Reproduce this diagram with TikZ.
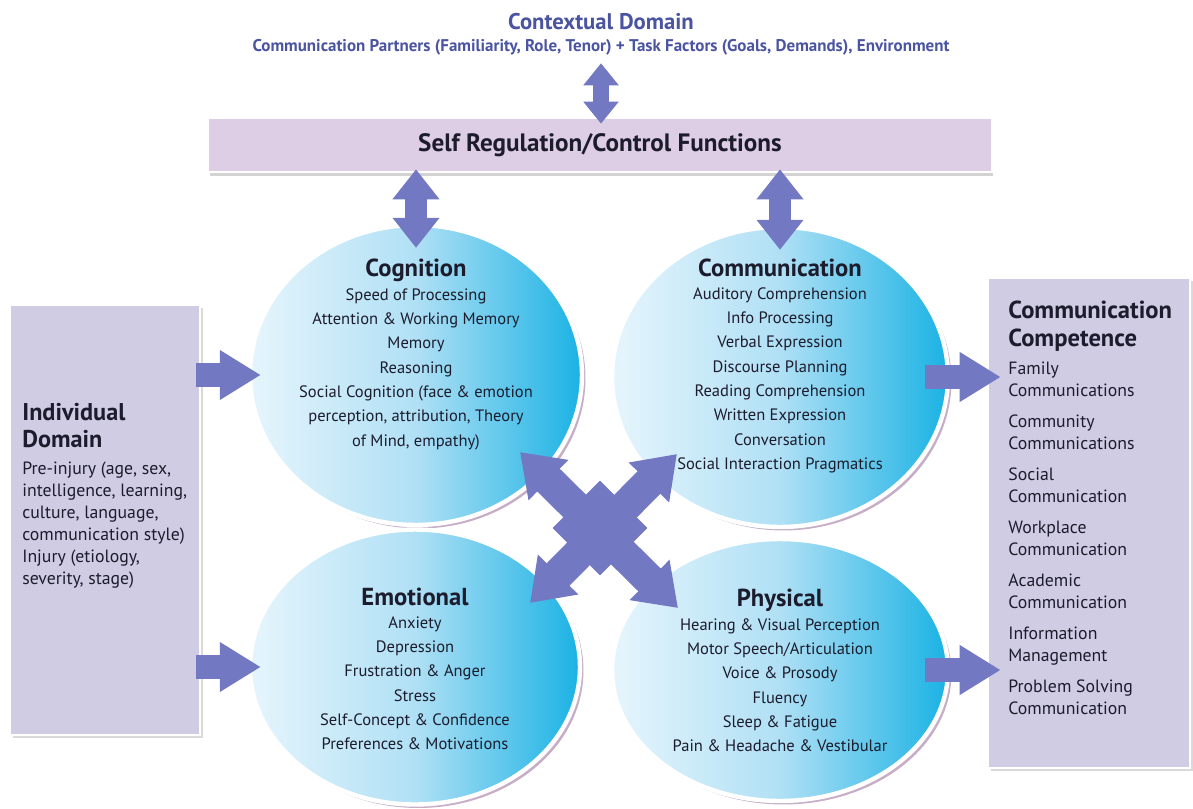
\documentclass[tikz,border=0pt]{standalone}
\usepackage{fontspec}
\setmainfont{PT Sans}
\usetikzlibrary{positioning,shadows,shapes,arrows.meta,calc}

\definecolor{arrowblue}{RGB}{114,120,194}
\definecolor{boxlilac}{RGB}{208,204,227}
\definecolor{regmauve}{RGB}{221,205,229}
\definecolor{titleblue}{RGB}{74,84,160}
\definecolor{inkdark}{RGB}{28,28,45}
\definecolor{skylight}{RGB}{230,245,252}
\definecolor{skymid}{RGB}{176,224,245}
\definecolor{skydeep}{RGB}{26,178,228}

\tikzset {
    style reg/.style={
        fill=regmauve,
        draw=white,
        line width=1.5pt,
        rectangle, % the control bar
        minimum width=15.68cm,
        minimum height=1.08cm,
        font=\fontsize{14.3}{17}\selectfont\bfseries,
        drop shadow={shadow xshift=0.03cm, shadow yshift=-0.08cm, opacity=0.35},
    },
    style domain/.style={
        fill=boxlilac,
        draw=white,
        line width=1.5pt,
        rectangle, % side boxes
        drop shadow={shadow xshift=0.06cm, shadow yshift=-0.06cm, opacity=0.3},
    },
    style area/.style={
        ellipse,
        draw=white,
        line width=2.5pt,
        inner sep=0pt,
        left color=skylight,
        right color=skydeep,
        middle color=skymid,
        drop shadow={shadow xshift=0.07cm, shadow yshift=-0.07cm, fill=violet!40!gray, opacity=0.45},
    },
    style head/.style={
        inner sep=0pt,
        font=\fontsize{14}{17}\selectfont\bfseries,
    },
    style items/.style={
        inner sep=0pt,
        align=center,
        anchor=north,
        font=\fontsize{9.4}{13.85}\selectfont,
    },
    style side/.style={
        inner sep=0pt,
        align=left,
        anchor=north west,
        font=\fontsize{10.1}{12.5}\selectfont,
    },
    arrow A/.style={
        draw=arrowblue,
        line width=0.32cm,
        {Triangle[width=0.68cm,length=0.44cm]}-{Triangle[width=0.68cm,length=0.44cm]},
    },
    arrow B/.style={
        draw=arrowblue,
        line width=0.44cm,
        {Triangle[width=0.9cm,length=0.6cm]}-{Triangle[width=0.9cm,length=0.6cm]},
    },
    arrow C/.style={
        draw=arrowblue,
        line width=0.48cm,
        -{Triangle[width=0.94cm,length=0.82cm]},
    },
    arrow D/.style={
        draw=arrowblue,
        line width=0.64cm,
        {Triangle[width=1.08cm,length=0.8cm]}-{Triangle[width=1.08cm,length=0.8cm]},
    },
}

\begin{document}
\begin{tikzpicture}
        [x=0.02cm, y=-0.02cm, text=inkdark]

        \useasboundingbox (0,0) rectangle (1193,808);

        % context on top
        \node[inner sep=0pt, text=titleblue, font=\fontsize{12.9}{15}\selectfont\bfseries] at (601,22) (ctx) {Contextual Domain};
        \node[inner sep=0pt, text=titleblue, font=\fontsize{9.65}{11}\selectfont\bfseries] at (601,47) (ctxsub)
            {Communication Partners (Familiarity, Role, Tenor) + Task Factors (Goals, Demands), Environment};

        % boxes
        \node[style reg] at (600,145) (selfreg) {Self Regulation/Control Functions};
        \node[style domain, minimum width=3.8cm, minimum height=8.6cm] at (105,520) (indiv) {};
        \node[style domain, minimum width=4.04cm, minimum height=9.8cm] at (1089,523) (comp) {};

        % the four areas
        \node[style area, minimum width=6.64cm, minimum height=6cm] at (416,375) (cog) {};
        \node[style area, minimum width=6.72cm, minimum height=6cm] at (780,377) (comm) {};
        \node[style area, minimum width=6.6cm, minimum height=5.5cm] at (415,667) (emo) {};
        \node[style area, minimum width=6.72cm, minimum height=5.24cm] at (780,670) (phys) {};

        % arrows
        \draw[arrow A, shorten <=0.16cm, shorten >=-0.14cm] (ctxsub.south) -- (ctxsub.south |- selfreg.north);
        \draw[arrow B, shorten <=-0.08cm, shorten >=-0.5cm] (selfreg.south -| cog.north) -- (cog.north);
        \draw[arrow B, shorten <=-0.08cm, shorten >=-0.5cm] (selfreg.south -| comm.north) -- (comm.north);
        \draw[arrow C, shorten <=-0.1cm, shorten >=-0.26cm] (indiv.east |- cog) -- (cog.west);
        \draw[arrow C, shorten <=-0.1cm, shorten >=-0.26cm] (indiv.east |- emo) -- (emo.west);
        \draw[arrow C, shorten <=-0.5cm, shorten >=-0.28cm] (comm.east) -- (comm.east -| comp.west);
        \draw[arrow C, shorten <=-0.5cm, shorten >=-0.28cm] (phys.east) -- (phys.east -| comp.west);

        \coordinate (hub) at (600,528);
        \node[diamond, fill=arrowblue, inner sep=0pt, minimum size=1.9cm] at (hub) (hubbox) {};
        \draw[arrow D] ($(hub)+(-80,-76)$) -- ($(hub)+(78,80)$);
        \draw[arrow D] ($(hub)+(-70,75)$) -- ($(hub)+(77,-74)$);

        % texts in the areas
        \node[style head] at (416,270) (cogT) {Cognition};
        \node[style items] at (416,288) (cogL) {Speed of Processing\\Attention \& Working Memory\\Memory\\Reasoning\\
            Social Cognition (face \& emotion\\perception, attribution, Theory\\of Mind, empathy)};
        \node[style head] at (780,268) (commT) {Communication};
        \node[style items] at (780,287) (commL) {Auditory Comprehension\\Info Processing\\Verbal Expression\\Discourse Planning\\
            Reading Comprehension\\Written Expression\\Conversation\\Social Interaction Pragmatics};
        \node[style head] at (415,597) (emoT) {Emotional};
        \node[style items] at (415,616) (emoL) {Anxiety\\Depression\\Frustration \& Anger\\Stress\\
            Self-Concept \& Confidence\\Preferences \& Motivations};
        \node[style head] at (780,600) (physT) {Physical};
        \node[style items] at (780,618) (physL) {Hearing \& Visual Perception\\Motor Speech/Articulation\\Voice \& Prosody\\
            Fluency\\Sleep \& Fatigue\\Pain \& Headache \& Vestibular};

        % side texts
        \node[style side, font=\fontsize{13.8}{15.5}\selectfont\bfseries] at (22,403) (indivT) {Individual\\Domain};
        \node[style side] at (22,462) (indivL) {Pre-injury (age, sex,\\intelligence, learning,\\culture, language,\\
            communication style)\\Injury (etiology,\\severity, stage)};
        \node[style side, font=\fontsize{14}{15.5}\selectfont\bfseries] at (1008,301) (compT) {Communication\\Competence};
        \foreach \entry [count=\i from 0] in {{Family\\Communications}, {Community\\Communications},
            {Social\\Communication}, {Workplace\\Communication}, {Academic\\Communication},
            {Information\\Management}, {Problem Solving\\Communication}}
            \node[style side] at (1008,362+53*\i) (compL\i) {\entry};
    \end{tikzpicture}
\end{document}
